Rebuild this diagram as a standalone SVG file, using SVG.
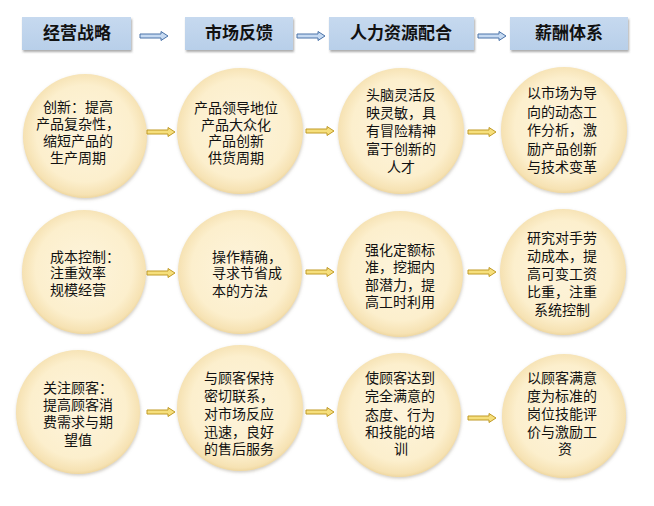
<svg xmlns="http://www.w3.org/2000/svg" width="654" height="506" viewBox="0 0 654 506">
<defs>
<radialGradient id="cg" cx="50%" cy="48%" r="52%">
<stop offset="0" stop-color="#fdf4dc"/>
<stop offset="0.75" stop-color="#fcefcd"/>
<stop offset="0.95" stop-color="#f6e2b3"/>
<stop offset="1" stop-color="#efd7a0"/>
</radialGradient>
<linearGradient id="hg" x1="0" y1="0" x2="0" y2="1">
<stop offset="0" stop-color="#c6d9ef"/>
<stop offset="1" stop-color="#b8cfe9"/>
</linearGradient>
<filter id="sh" x="-20%" y="-20%" width="140%" height="140%">
<feDropShadow dx="0.5" dy="1.5" stdDeviation="1.8" flood-color="#8c8270" flood-opacity="0.4"/>
</filter>
<filter id="hs" x="-10%" y="-20%" width="120%" height="150%">
<feDropShadow dx="1" dy="2" stdDeviation="1.2" flood-color="#555" flood-opacity="0.5"/>
</filter>
<path id="arr" d="M0,-2 H21 V-4.5 L28,0 L21,4.5 V2 H0 Z"/>
</defs>
<style>
.hdr{fill:url(#hg);filter:url(#hs)}
.ht{font-family:"Noto Sans CJK SC","Liberation Sans",sans-serif;font-size:17px;font-weight:bold;fill:#111;text-anchor:middle}
.c{fill:url(#cg);filter:url(#sh)}
.t{font-family:"Noto Sans CJK SC","Liberation Sans",sans-serif;font-size:14px;fill:#111}
.m{text-anchor:middle}
.ba{fill:#c6daf2;stroke:#4a72a8;stroke-width:1}
.ya{fill:#f6df7c;stroke:#c09a26;stroke-width:1}
</style>
<rect width="654" height="506" fill="#ffffff"/>

<g id="h1"><rect class="hdr" x="22" y="17" width="109" height="33"/><text class="ht" x="77" y="39">经营战略</text></g>
<g id="h2"><rect class="hdr" x="185" y="17" width="108" height="33"/><text class="ht" x="239" y="39">市场反馈</text></g>
<g id="h3"><rect class="hdr" x="329" y="17" width="145" height="33"/><text class="ht" x="401" y="39">人力资源配合</text></g>
<g id="h4"><rect class="hdr" x="510" y="17" width="118" height="33"/><text class="ht" x="569" y="39">薪酬体系</text></g>

<g id="r1c1"><circle class="c" cx="85" cy="136" r="62"/>
<text class="t m" x="78"><tspan x="78" y="112">创新：提高</tspan><tspan x="78" y="129">产品复杂性，</tspan><tspan x="78" y="146">缩短产品的</tspan><tspan x="78" y="163">生产周期</tspan></text></g>
<g id="r1c2"><circle class="c" cx="240" cy="131" r="63"/>
<text class="t m"><tspan x="236" y="113">产品领导地位</tspan><tspan x="236" y="130">产品大众化</tspan><tspan x="236" y="146">产品创新</tspan><tspan x="236" y="163">供货周期</tspan></text></g>
<g id="r1c3"><circle class="c" cx="401" cy="131" r="63"/>
<text class="t m"><tspan x="401" y="100">头脑灵活反</tspan><tspan x="401" y="118">映灵敏，具</tspan><tspan x="401" y="136">有冒险精神</tspan><tspan x="401" y="154">富于创新的</tspan><tspan x="401" y="172">人才</tspan></text></g>
<g id="r1c4"><circle class="c" cx="564" cy="130" r="63"/>
<text class="t m"><tspan x="562" y="98">以市场为导</tspan><tspan x="562" y="117">向的动态工</tspan><tspan x="562" y="135">作分析，激</tspan><tspan x="562" y="154">励产品创新</tspan><tspan x="562" y="172">与技术变革</tspan></text></g>

<g id="r2c1"><circle class="c" cx="84" cy="272" r="62"/>
<text class="t"><tspan x="50" y="262">成本控制：</tspan><tspan x="50" y="278">注重效率</tspan><tspan x="50" y="295">规模经营</tspan></text></g>
<g id="r2c2"><circle class="c" cx="240" cy="272" r="62"/>
<text class="t"><tspan x="212" y="262">操作精确，</tspan><tspan x="212" y="278">寻求节省成</tspan><tspan x="212" y="296">本的方法</tspan></text></g>
<g id="r2c3"><circle class="c" cx="400" cy="274" r="63"/>
<text class="t"><tspan x="365" y="255">强化定额标</tspan><tspan x="365" y="272">准，挖掘内</tspan><tspan x="365" y="290">部潜力，提</tspan><tspan x="365" y="307">高工时利用</tspan></text></g>
<g id="r2c4"><circle class="c" cx="563" cy="272" r="63"/>
<text class="t m"><tspan x="562" y="243">研究对手劳</tspan><tspan x="562" y="261">动成本，提</tspan><tspan x="562" y="279">高可变工资</tspan><tspan x="562" y="297">比重，注重</tspan><tspan x="562" y="315">系统控制</tspan></text></g>

<g id="r3c1"><circle class="c" cx="78" cy="412" r="62"/>
<text class="t"><tspan x="43" y="393">关注顾客：</tspan><tspan x="43" y="410">提高顾客消</tspan><tspan x="43" y="427">费需求与期</tspan><tspan x="78" y="445" text-anchor="middle">望值</tspan></text></g>
<g id="r3c2"><circle class="c" cx="240" cy="408" r="63"/>
<text class="t"><tspan x="204" y="383">与顾客保持</tspan><tspan x="204" y="401">密切联系，</tspan><tspan x="204" y="419">对市场反应</tspan><tspan x="204" y="437">迅速，良好</tspan><tspan x="204" y="454">的售后服务</tspan></text></g>
<g id="r3c3"><circle class="c" cx="399" cy="415" r="62"/>
<text class="t"><tspan x="365" y="383">使顾客达到</tspan><tspan x="365" y="401">完全满意的</tspan><tspan x="365" y="420">态度、行为</tspan><tspan x="365" y="437">和技能的培</tspan><tspan x="401" y="454" text-anchor="middle">训</tspan></text></g>
<g id="r3c4"><circle class="c" cx="564" cy="416" r="62"/>
<text class="t"><tspan x="527" y="383">以顾客满意</tspan><tspan x="527" y="401">度为标准的</tspan><tspan x="527" y="419">岗位技能评</tspan><tspan x="527" y="437">价与激励工</tspan><tspan x="565" y="454" text-anchor="middle">资</tspan></text></g>

<g id="connectors">
<use href="#arr" class="ba" transform="translate(140,36)"/>
<use href="#arr" class="ba" transform="translate(297,36)"/>
<use href="#arr" class="ba" transform="translate(478,36)"/>
<use href="#arr" class="ya" transform="translate(147,132)"/>
<use href="#arr" class="ya" transform="translate(306,131)"/>
<use href="#arr" class="ya" transform="translate(468,132)"/>
<use href="#arr" class="ya" transform="translate(147,273)"/>
<use href="#arr" class="ya" transform="translate(306,272)"/>
<use href="#arr" class="ya" transform="translate(468,272)"/>
<use href="#arr" class="ya" transform="translate(147,412)"/>
<use href="#arr" class="ya" transform="translate(306,412)"/>
<use href="#arr" class="ya" transform="translate(468,418)"/>
</g>
</svg>
